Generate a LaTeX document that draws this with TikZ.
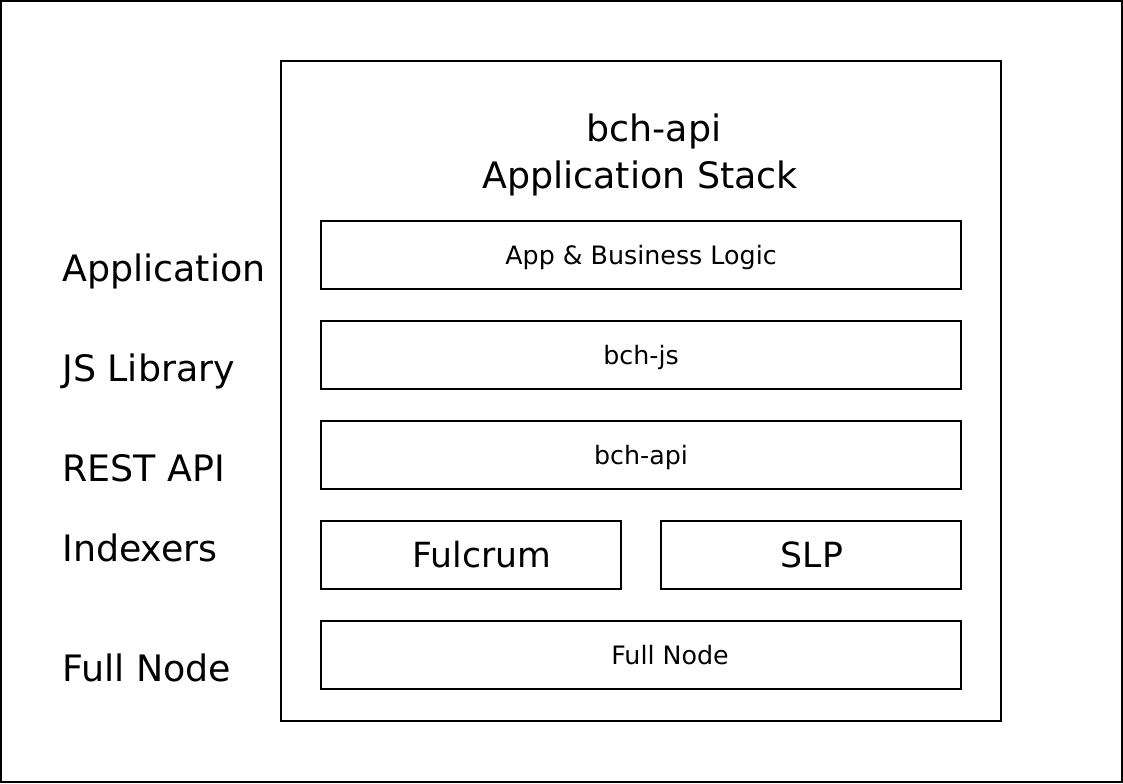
\documentclass[tikz,border=0pt]{standalone}
\usepackage{fontspec}
\setmainfont{DejaVu Sans}
\usetikzlibrary{fit}
\tikzset{
  box/.style={draw=black, line width=1.5pt, inner sep=0pt, fill=none},
  big/.style={inner sep=0pt, font=\fontsize{27.3}{31}\selectfont, anchor=base},
  bigleft/.style={inner sep=0pt, font=\fontsize{27.3}{31}\selectfont, anchor=base west},
  mid/.style={inner sep=0pt, font=\fontsize{26}{30}\selectfont, anchor=base},
  small/.style={inner sep=0pt, font=\fontsize{19}{22}\selectfont, anchor=base},
}
\begin{document}
\begin{tikzpicture}[x=0.75pt, y=-0.75pt]
\useasboundingbox (0,0) rectangle (1123,783);
\node[box, fit={(1,1)(1122,782)}] (outer) {};
\node[box, fit={(281,61)(1001,721)}] (stack) {};
\node[big] (t1) at (654,141) {bch-api};
\node[big] (t2) at (640,188) {Application Stack};

\node[box, fit={(321,221)(961,289)}] (app) {};
\node[small] (appt) at (641,264) {App \& Business Logic};
\node[box, fit={(321,321)(961,389)}] (js) {};
\node[small] (jst) at (641,364) {bch-js};
\node[box, fit={(321,421)(961,489)}] (api) {};
\node[small] (apit) at (641,464) {bch-api};
\node[box, fit={(321,521)(621,589)}] (ful) {};
\node[mid] (fult) at (482,567) {Fulcrum};
\node[box, fit={(661,521)(961,589)}] (slp) {};
\node[mid] (slpt) at (812,567) {SLP};
\node[box, fit={(321,621)(961,689)}] (fn) {};
\node[small] (fnt) at (670,664) {Full Node};

\node[bigleft] (l1) at (62,281) {Application};
\node[bigleft] (l2) at (62,381) {JS Library};
\node[bigleft] (l3) at (62,481) {REST API};
\node[bigleft] (l4) at (62,561) {Indexers};
\node[bigleft] (l5) at (62,681) {Full Node};
\end{tikzpicture}
\end{document}
